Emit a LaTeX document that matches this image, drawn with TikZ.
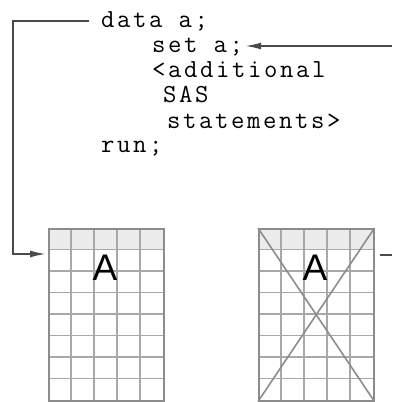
\documentclass[tikz,border=0pt]{standalone}
\usepackage{fontspec}
\usepackage{tikz}
\usetikzlibrary{arrows.meta,calc,positioning}
\newfontfamily\labelfont{Liberation Sans}
\newfontfamily\codefont[LetterSpace=10]{Latin Modern Mono}
\definecolor{conngray}{HTML}{4A4A4A}
\definecolor{gridgray}{HTML}{A8A8A8}
\definecolor{boxgray}{HTML}{8C8C8C}
\definecolor{headgray}{HTML}{ECECEC}
\tikzset{
  code/.style={
    anchor = base west,
    inner sep = 0pt,
    font = \codefont\fontsize{26}{26}\selectfont
  },
  conn/.style={
    draw = conngray,
    line width = 1.8pt,
    -{Latex[length=16pt,width=7pt]}
  },
  gridline/.style={
    draw = gridgray,
    line width = 1.3pt
  },
  tablebox/.style={
    shape = rectangle,
    draw = boxgray,
    line width = 1.5pt,
    inner sep = 0pt,
    minimum width = 115pt,
    minimum height = 172pt
  },
  letter/.style={
    inner sep = 0pt,
    font = \labelfont\fontsize{37}{37}\selectfont
  },
  crossline/.style={
    draw = boxgray,
    line width = 1.6pt
  }
}

\begin{document}
\begin{tikzpicture}[x=1pt,y=-1pt]
    \useasboundingbox (0,0) rectangle (392,402);
    \def\cw{23}
    \def\rh{21.5}
    % the program
    \node[code] (data) at (101,27) {data a;};
    \node[code] (set) at (152,52) {set a;};
    \node[code] (add) at (152,77) {<additional};
    \node[code] (sas) at (163,102) {SAS};
    \node[code] (stmt) at (167,128) {statements>};
    \node[code] (run) at (101,152) {run;};
    % two tables
    \foreach \name/\xl in {tblA/48, tblB/258}{
        \fill[headgray] (\xl,228) rectangle (\xl+5*\cw,228+\rh);
        \foreach \i in {1,...,4}{
            \draw[gridline] (\xl+\i*\cw,228) -- (\xl+\i*\cw,400);
        }
        \foreach \j in {1,...,7}{
            \draw[gridline] (\xl,228+\j*\rh) -- (\xl+5*\cw,228+\j*\rh);
        }
        \node[tablebox, anchor=north west] (\name) at (\xl,228) {};
    }
    \node[letter] (la) at (105,268) {A};
    \draw[crossline] (tblB.north west) -- (tblB.south east);
    \draw[crossline] (tblB.north east) -- (tblB.south west);
    \node[letter] (lb) at (315,268) {A};
    % connectors
    \coordinate (inA) at (46,254);
    \coordinate (feed) at (392,46);
    \coordinate (outB) at (392,255);
    \draw[conn] ([xshift=-12pt]data.west |- 0,21) -| (13,21) |- (inA);
    \draw[conn] (feed) -- ([xshift=2pt]set.east |- feed);
    \draw[draw=conngray, line width=1.8pt] ([xshift=5pt]tblB.east |- outB) -- (outB);
\end{tikzpicture}
\end{document}
